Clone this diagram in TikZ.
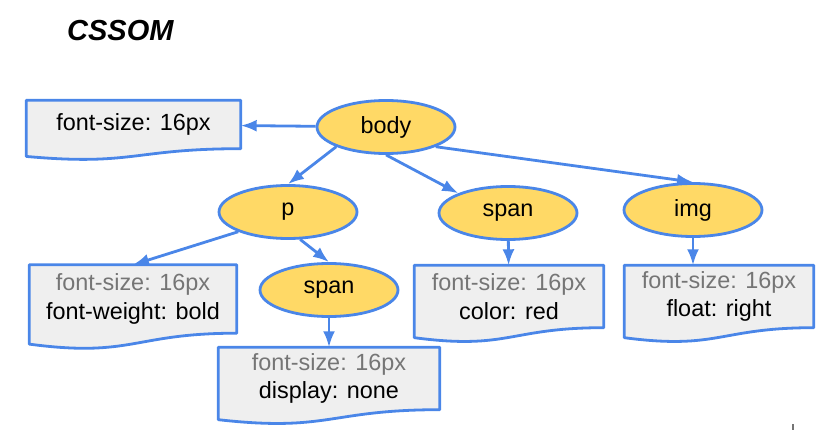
\documentclass[tikz,border=0pt]{standalone}
\usepackage{fontspec}
\setmainfont{Liberation Sans}
\usetikzlibrary{shapes.geometric,arrows.meta,calc,backgrounds}
\definecolor{gblue}{HTML}{4A86E8}
\definecolor{gyellow}{HTML}{FFD966}
\definecolor{gpaper}{HTML}{EFEFEF}
\definecolor{fsgray}{HTML}{757575}
\tikzset{
  tagnode/.style={ellipse, draw=gblue, fill=gyellow, line width=2.8pt,
    minimum width=138pt, minimum height=53pt, inner sep=0pt},
  rulebox/.style={rectangle, inner sep=0pt, align=center},
  docshape/.style={draw=gblue, fill=gpaper, line width=2.8pt, line join=round},
  link/.style={draw=gblue, line width=2.8pt, -{Latex[length=16pt,width=12pt]}},
}

\begin{document}
\begin{tikzpicture}[x=1pt, y=-1pt, font=\fontsize{23.4}{28.5}\selectfont]
\useasboundingbox (0,0) rectangle (830,430);

\node[anchor=west, inner sep=0pt, font=\fontsize{29}{34}\selectfont\bfseries\itshape] (title) at (67,31) {CSSOM};

% element tree
\node[tagnode] (body) at (386,127) {body};
\node[tagnode] (p) at (288,212) {p};
\node[tagnode] (pspan) at (329,290) {span};
\node[tagnode] (span) at (508,213) {span};
\node[tagnode] (img) at (693,210) {img};

% computed styles
\node[rulebox, minimum width=214pt, minimum height=48pt] (b1) at (133.5,124.5) {font-size: 16px};
\node[rulebox, minimum width=207pt, minimum height=68pt] (b2) at (133,299)
  {{\color{fsgray}font-size: 16px}\\font-weight: bold};
\node[rulebox, minimum width=221pt, minimum height=62pt] (b3) at (329,378.5)
  {{\color{fsgray}font-size: 16px}\\display: none};
\node[rulebox, minimum width=189pt, minimum height=62pt] (b4) at (509,296.5)
  {{\color{fsgray}font-size: 16px}\\color: red};
\node[rulebox, minimum width=189pt, minimum height=62pt] (b5) at (719,296.5)
  {{\color{fsgray}font-size: 16px}\\float: right};

\begin{scope}[on background layer]
\foreach \rb in {b1,b2,b3,b4,b5}
  \draw[docshape] (\rb.north west) -- (\rb.north east) -- (\rb.south east)
    .. controls (\rb.south) and ($(\rb.south)!-0.36!(\rb.north)$)
    .. ($(\rb.south west)!-0.16!(\rb.north west)$) -- cycle;
\end{scope}

% arrows
\draw[link] (body) -- (b1);
\draw[link] (body.south west) -- (p.north);
\draw[link] (body.south) -- (span.north west);
\draw[link] (body.south east) -- (img.north);
\draw[link] (p.south west) -- (b2.north);
\draw[link] (p.-66) -- (pspan.north);
\draw[link] (pspan) -- (b3);
\draw[link] (span) -- (b4);
\draw[link] (img.south) -- (img.south |- b5.north);

\draw[fsgray, line width=1.5pt] (793,424) -- (793,430);
\end{tikzpicture}
\end{document}
